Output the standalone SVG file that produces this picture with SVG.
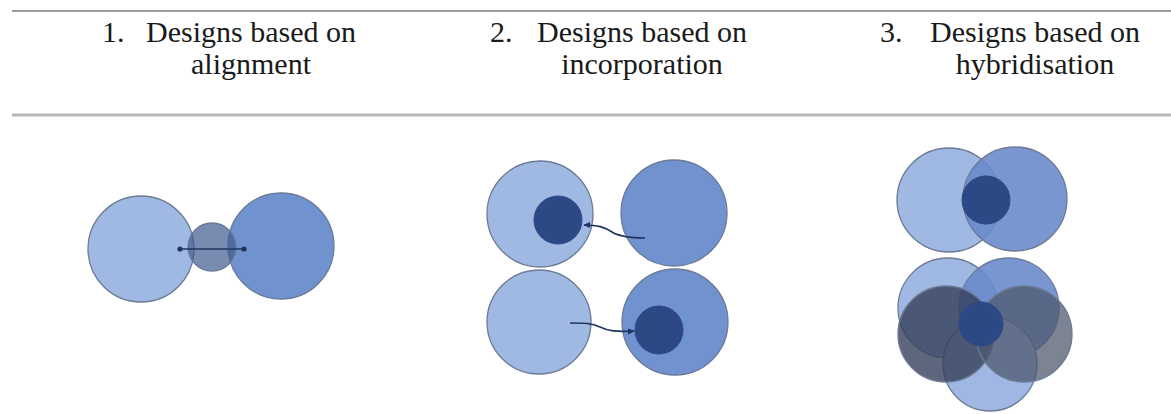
<svg xmlns="http://www.w3.org/2000/svg" width="1171" height="414" viewBox="0 0 1171 414">
<style>
  .t { font-family: "Liberation Serif", "Times New Roman", serif; font-size: 30px; fill: #1a1a1a; }
  .m { text-anchor: middle; }
  .rule1 { stroke: #9c9c9c; stroke-width: 2; }
  .rule2 { stroke: #b8b8b8; stroke-width: 3; }
  .c { stroke: #6b7a96; stroke-width: 1.3; }
  .light { fill: #a0b9e3; }
  .mid { fill: #7093cf; }
  .midT { fill: #6687c9; fill-opacity: 0.88; }
  .dark { fill: #2c4985; stroke: #2c4985; }
  .bridge { fill: #3f5a8e; fill-opacity: 0.7; }
  .grayD { fill: #34405a; fill-opacity: 0.8; }
  .grayL { fill: #4e586d; fill-opacity: 0.74; }
  .lightT { fill: #9fb7e2; }
  .conn { fill: none; stroke: #1f3460; stroke-width: 1.6; }
</style>
<defs>
  <marker id="dot" viewBox="0 0 6 6" refX="3" refY="3" markerWidth="6" markerHeight="6" markerUnits="userSpaceOnUse">
    <circle cx="3" cy="3" r="2.6" fill="#1f3460"/>
  </marker>
  <marker id="arr" viewBox="0 0 8 8" refX="7" refY="4" markerWidth="7" markerHeight="7" orient="auto" markerUnits="userSpaceOnUse">
    <path d="M0,0.5 L8,4 L0,7.5 Z" fill="#1f3460"/>
  </marker>
</defs>
<rect width="1171" height="414" fill="#ffffff"/>

<g id="header">
  <line class="rule1" x1="12" y1="11" x2="1171" y2="11"/>
  <line class="rule2" x1="12" y1="115" x2="1171" y2="115"/>
  <text class="t" x="102" y="42">1.</text>
  <text class="t m" x="251" y="42">Designs based on</text>
  <text class="t m" x="251" y="74">alignment</text>
  <text class="t" x="490" y="42">2.</text>
  <text class="t m" x="642" y="42">Designs based on</text>
  <text class="t m" x="642" y="74">incorporation</text>
  <text class="t" x="880" y="42">3.</text>
  <text class="t m" x="1035" y="42">Designs based on</text>
  <text class="t m" x="1035" y="74">hybridisation</text>
</g>

<g id="alignment">
  <circle class="c light" cx="141" cy="249" r="53"/>
  <circle class="c mid" cx="281" cy="246" r="53"/>
  <circle class="c bridge" cx="212" cy="247" r="24"/>
</g>

<g id="incorporation-top">
  <circle class="c light" cx="540" cy="214" r="53"/>
  <circle class="dark" cx="558" cy="220" r="24"/>
  <circle class="c mid" cx="674" cy="213" r="53"/>
</g>

<g id="incorporation-bottom">
  <circle class="c light" cx="539" cy="322" r="52"/>
  <circle class="c mid" cx="675" cy="322" r="53"/>
  <circle class="dark" cx="659" cy="330" r="24"/>
</g>

<g id="hybridisation-top">
  <circle class="c light" cx="949" cy="200" r="52"/>
  <circle class="c midT" cx="1015" cy="199" r="52"/>
  <circle class="dark" cx="986" cy="200" r="24"/>
</g>

<g id="hybridisation-bottom">
  <circle class="c light" cx="948" cy="308" r="50"/>
  <circle class="c midT" cx="1009" cy="308" r="50"/>
  <circle class="c lightT" cx="990" cy="364" r="47"/>
  <circle class="c grayD" cx="946" cy="334" r="48"/>
  <circle class="c grayL" cx="1024" cy="334" r="48"/>
  <circle class="dark" cx="981" cy="324" r="22"/>
</g>

<g id="connectors">
  <line class="conn" x1="180" y1="249" x2="244" y2="249" marker-start="url(#dot)" marker-end="url(#dot)"/>
  <path class="conn" d="M645,238 C630,238 620,237 612,232 C604,227 598,225 584,225" marker-end="url(#arr)"/>
  <path class="conn" d="M570,323 C584,323 592,323 600,327 C608,331 616,332 634,331" marker-end="url(#arr)"/>
</g>
</svg>
